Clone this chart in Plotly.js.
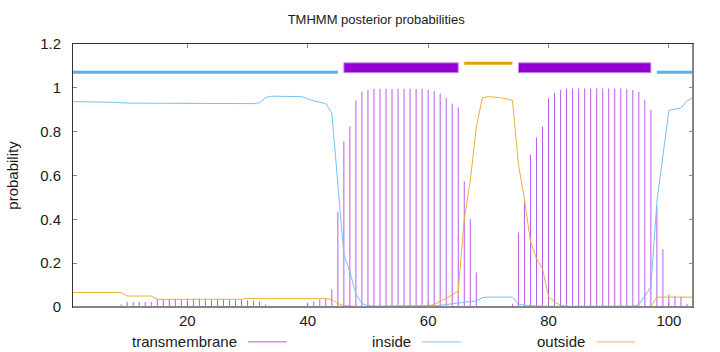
<!DOCTYPE html>
<html><head><meta charset="utf-8">
<script src="https://cdn.plot.ly/plotly-3.0.1.min.js"></script>
<style>html,body{margin:0;padding:0;background:#fff}#chart{width:720px;height:352px}</style>
</head><body><div id="chart"></div>
<script>
const positions = [1,2,3,4,5,6,7,8,9,10,11,12,13,14,15,16,17,18,19,20,21,22,23,24,25,26,27,28,29,30,31,32,33,34,35,36,37,38,39,40,41,42,43,44,45,46,47,48,49,50,51,52,53,54,55,56,57,58,59,60,61,62,63,64,65,66,67,68,69,70,71,72,73,74,75,76,77,78,79,80,81,82,83,84,85,86,87,88,89,90,91,92,93,94,95,96,97,98,99,100,101,102,103,104];

const transmembrane = [
  0, 0, 0, 0, 0, 0.001, 0.002, 0.004, 0.012, 0.023,
  0.023, 0.023, 0.023, 0.024, 0.036, 0.037, 0.037, 0.037, 0.037, 0.038,
  0.038, 0.038, 0.038, 0.038, 0.038, 0.037, 0.037, 0.036, 0.035, 0.030,
  0.028, 0.026, 0.011, 0.002, 0.001, 0.001, 0.001, 0.002, 0.004, 0.015,
  0.026, 0.034, 0.038, 0.081, 0.435, 0.755, 0.824, 0.942, 0.982, 0.990,
  0.995, 0.995, 0.995, 0.995, 0.995, 0.995, 0.995, 0.995, 0.995, 0.990,
  0.985, 0.974, 0.954, 0.928, 0.911, 0.574, 0.401, 0.158, 0.003, 0.001,
  0.001, 0.003, 0.005, 0.015, 0.340, 0.493, 0.695, 0.774, 0.823, 0.952,
  0.978, 0.990, 0.997, 0.997, 0.997, 0.997, 0.997, 0.997, 0.997, 0.997,
  0.997, 0.997, 0.995, 0.990, 0.982, 0.945, 0.900, 0.458, 0.264, 0.058,
  0.052, 0.047, 0.014, 0.002
];

const inside = [
  0.937, 0.937, 0.937, 0.937, 0.937, 0.937, 0.934, 0.934, 0.932, 0.930,
  0.930, 0.930, 0.930, 0.929, 0.928, 0.928, 0.928, 0.928, 0.928, 0.928,
  0.928, 0.928, 0.928, 0.928, 0.928, 0.928, 0.928, 0.928, 0.928, 0.928,
  0.928, 0.932, 0.956, 0.962, 0.962, 0.962, 0.962, 0.962, 0.960, 0.950,
  0.940, 0.934, 0.928, 0.885, 0.550, 0.240, 0.160, 0.060, 0.016, 0.006,
  0.004, 0.004, 0.004, 0.004, 0.004, 0.004, 0.004, 0.004, 0.004, 0.005,
  0.006, 0.008, 0.012, 0.016, 0.018, 0.022, 0.025, 0.027, 0.043, 0.045,
  0.045, 0.045, 0.045, 0.045, 0.012, 0.008, 0.006, 0.005, 0.003, 0.003,
  0.003, 0.003, 0.003, 0.003, 0.003, 0.003, 0.003, 0.003, 0.003, 0.003,
  0.003, 0.003, 0.003, 0.004, 0.010, 0.050, 0.090, 0.480, 0.690, 0.897,
  0.903, 0.908, 0.940, 0.955
];

const outside = [
  0.066, 0.066, 0.066, 0.066, 0.066, 0.066, 0.066, 0.066, 0.066, 0.050,
  0.050, 0.050, 0.050, 0.050, 0.035, 0.035, 0.035, 0.035, 0.035, 0.035,
  0.035, 0.035, 0.035, 0.035, 0.035, 0.035, 0.035, 0.035, 0.035, 0.040,
  0.038, 0.038, 0.038, 0.038, 0.038, 0.038, 0.038, 0.038, 0.038, 0.038,
  0.038, 0.038, 0.038, 0.034, 0.016, 0.006, 0.004, 0.002, 0.002, 0.002,
  0.002, 0.002, 0.002, 0.002, 0.002, 0.002, 0.002, 0.002, 0.002, 0.005,
  0.012, 0.025, 0.040, 0.055, 0.073, 0.400, 0.575, 0.820, 0.954, 0.960,
  0.958, 0.955, 0.950, 0.943, 0.650, 0.490, 0.300, 0.220, 0.175, 0.048,
  0.022, 0.008, 0.002, 0.002, 0.002, 0.002, 0.002, 0.002, 0.002, 0.002,
  0.002, 0.002, 0.002, 0.002, 0.002, 0.002, 0.002, 0.045, 0.045, 0.045,
  0.045, 0.045, 0.045, 0.045
];

// predicted topology segments (start, end positions)
const insideSegments = [[1, 45], [98, 104]];
const tmSegments = [[46, 65], [75, 97]];
const outsideSegments = [[66, 74]];

const xTicks = [20, 40, 60, 80, 100];
const yTicks = [0, 0.2, 0.4, 0.6, 0.8, 1, 1.2];
const yTickLabels = ['0', '0.2', '0.4', '0.6', '0.8', '1', '1.2'];
const seriesNames = ['transmembrane', 'inside', 'outside'];

const FONT = '"Liberation Sans", Arial, sans-serif';
const C_TM = '#9400d3', C_IN = '#56b4e9', C_OUT = '#e69f00';
const C_STICK = '#b95ce8', C_INL = '#74c2ee', C_OUTL = '#ebb032';

// impulses
const ix = [], iy = [];
positions.forEach((p, i) => { ix.push(p, p, null); iy.push(0, transmembrane[i], null); });

const traces = [
  {x: ix, y: iy, type: 'scatter', mode: 'lines', line: {color: C_STICK, width: 1}, hoverinfo: 'skip', name: seriesNames[0]},
  {x: positions, y: inside, type: 'scatter', mode: 'lines', line: {color: C_INL, width: 1}, name: seriesNames[1]},
  {x: positions, y: outside, type: 'scatter', mode: 'lines', line: {color: C_OUTL, width: 1}, name: seriesNames[2]}
];

const L_IN = 1.071, L_OUT = 1.112, R_LO = 1.069, R_HI = 1.114;
const shapes = [];
insideSegments.forEach(s => shapes.push({type: 'line', xref: 'x', yref: 'y', x0: s[0], x1: s[1], y0: L_IN, y1: L_IN, line: {color: C_IN, width: 3}}));
tmSegments.forEach(s => shapes.push({type: 'rect', xref: 'x', yref: 'y', x0: s[0], x1: s[1], y0: R_LO, y1: R_HI, fillcolor: C_TM, line: {color: '#c88ae8', width: 1}}));
outsideSegments.forEach(s => shapes.push({type: 'line', xref: 'x', yref: 'y', x0: s[0], x1: s[1], y0: L_OUT, y1: L_OUT, line: {color: C_OUT, width: 3}}));

// border overrides (bottom and right appear grey/thicker)
shapes.push({type: 'line', xref: 'paper', yref: 'paper', x0: 0, x1: 1, y0: 0, y1: 0, line: {color: '#858585', width: 2}});
shapes.push({type: 'line', xref: 'paper', yref: 'paper', x0: 1, x1: 1, y0: 0, y1: 1, line: {color: '#858585', width: 2}});

// legend (gnuplot style: text then sample)
const legendY = -0.1326;
const legendText = [0.2675, 0.5480, 0.8289];
const legendSample = [[0.2821, 0.3450], [0.5634, 0.6255], [0.8439, 0.9068]];
const legendColors = [C_STICK, '#80c8ef', '#eeb84e'];
const annotations = [];
seriesNames.forEach((n, i) => {
  annotations.push({xref: 'paper', yref: 'paper', x: legendText[i], y: legendY, xanchor: 'right', yanchor: 'middle',
    text: n, showarrow: false, font: {family: FONT, size: 15, color: '#1a1a1a'}});
  shapes.push({type: 'line', xref: 'paper', yref: 'paper', x0: legendSample[i][0], x1: legendSample[i][1], y0: legendY, y1: legendY,
    line: {color: legendColors[i], width: 1}});
});

const layout = {
  width: 720, height: 352,
  margin: {l: 73, r: 27, t: 44, b: 45, pad: 0},
  paper_bgcolor: '#fff', plot_bgcolor: '#fff',
  showlegend: false,
  title: {text: 'TMHMM posterior probabilities', font: {family: FONT, size: 13, color: '#1a1a1a'},
    x: 0.489, xref: 'paper', xanchor: 'center', y: 1 - 19 / 352, yref: 'container', yanchor: 'middle'},
  xaxis: {range: [1, 104], tickvals: xTicks, ticks: 'inside', ticklen: 4, tickcolor: '#888', tickwidth: 1,
    showline: true, linecolor: '#333', linewidth: 1, mirror: 'ticks', showgrid: false, zeroline: false,
    ticklabelstandoff: 0, tickfont: {family: FONT, size: 15, color: '#1a1a1a'}},
  yaxis: {range: [0, 1.2], tickvals: yTicks, ticktext: yTickLabels, ticks: 'inside', ticklen: 4, tickcolor: '#888', tickwidth: 1,
    showline: true, linecolor: '#333', linewidth: 1, mirror: 'ticks', showgrid: false, zeroline: false,
    ticklabelstandoff: 8, tickfont: {family: FONT, size: 15, color: '#1a1a1a'},
    title: {text: 'probability', standoff: 17, font: {family: FONT, size: 15, color: '#1a1a1a'}}},
  shapes: shapes,
  annotations: annotations
};

Plotly.newPlot('chart', traces, layout, {displayModeBar: false, staticPlot: true});
</script>
</body></html>
